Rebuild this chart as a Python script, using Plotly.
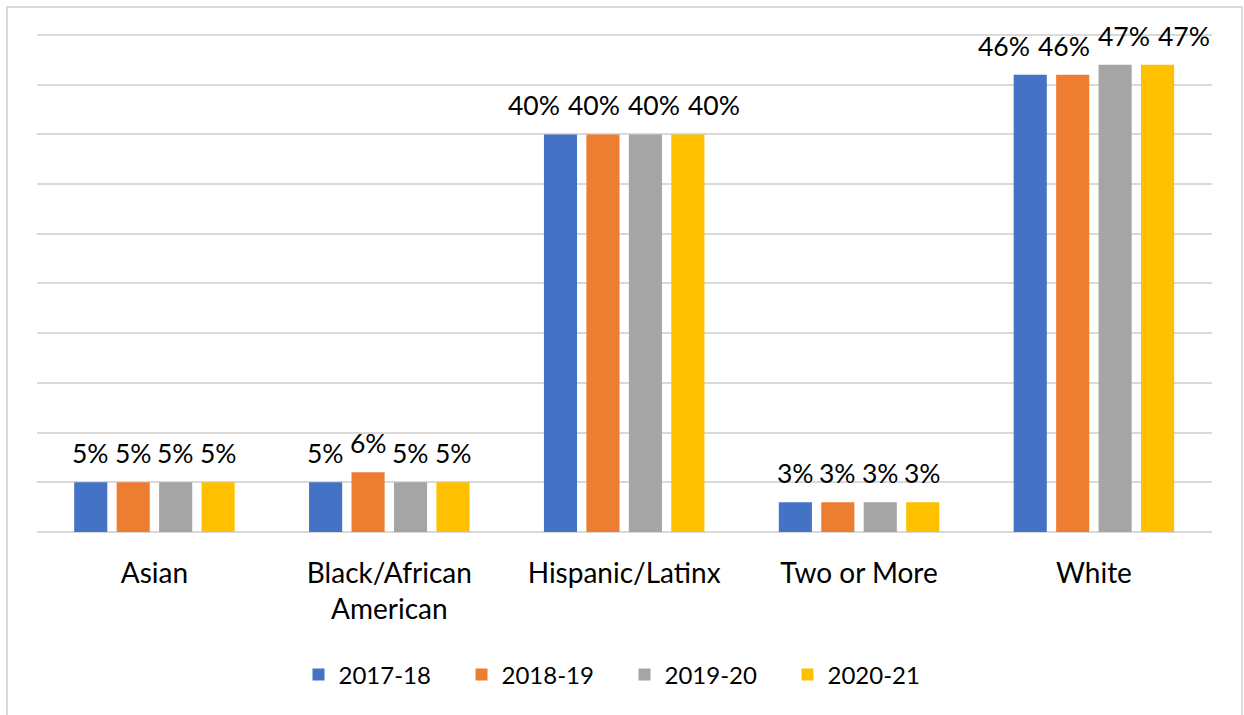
import plotly.graph_objects as go

categories = ["Asian", "Black/African<br>American", "Hispanic/Latinx", "Two or More", "White"]
years = ["2017-18", "2018-19", "2019-20", "2020-21"]
values_2017_18 = [5, 5, 40, 3, 46]
values_2018_19 = [5, 6, 40, 3, 46]
values_2019_20 = [5, 5, 40, 3, 47]
values_2020_21 = [5, 5, 40, 3, 47]
series = [values_2017_18, values_2018_19, values_2019_20, values_2020_21]
colors = ["#4472C4", "#ED7D31", "#A5A5A5", "#FFC000"]

FONT = "Lato"
W, H = 1244, 715
ML, MR, MT, MB = 37, 32, 32, 183
Y_MAX = 50.3
BARGAP = 0.277
GROUPGAP = 0.22
LABEL_SIZE = 26.5

fig = go.Figure()
for name, vals, col in zip(years, series, colors):
    fig.add_trace(go.Bar(x=categories, y=vals, name=name, marker=dict(color=col, line=dict(width=0))))

plot_w = W - ML - MR
plot_h = H - MT - MB
cat_px = plot_w / len(categories)
slot = cat_px * (1 - BARGAP) / len(years)
annotations = []
for ci, c in enumerate(categories):
    labels = [f"{s[ci]}%" for s in series]
    # spread labels apart (like Excel) when they are wider than a bar slot
    est_w = max(len(t) for t in labels) * 0.68 * LABEL_SIZE
    spacing = max(slot, est_w + 6)
    for i, s in enumerate(series):
        annotations.append(dict(
            x=c, y=s[ci], xref="x", yref="y", text=labels[i], showarrow=False,
            yanchor="bottom", xanchor="center", yshift=11,
            xshift=(i - (len(years) - 1) / 2) * spacing,
            font=dict(family=FONT, size=LABEL_SIZE, color="#000000")))

fig.update_layout(
    width=W, height=H,
    margin=dict(l=ML, r=MR, t=MT, b=MB),
    paper_bgcolor="white", plot_bgcolor="white",
    barmode="group", bargap=BARGAP, bargroupgap=GROUPGAP,
    font=dict(family=FONT, size=26, color="#000000"),
    showlegend=True,
    legend=dict(orientation="h", x=0.5, xanchor="center", y=-143 / plot_h, yanchor="middle",
                entrywidth=118, entrywidthmode="pixels",
                font=dict(family=FONT, size=24, color="#000000")),
    annotations=annotations,
    shapes=[dict(type="rect", xref="paper", yref="paper",
                 x0=(7 - ML) / plot_w, x1=(1242 - ML) / plot_w,
                 y0=-0.4, y1=1 + (MT - 7) / plot_h,
                 line=dict(color="#D9D9D9", width=2), layer="below")],
)
fig.update_yaxes(range=[0, Y_MAX], dtick=5, showticklabels=False, gridcolor="#D9D9D9", gridwidth=1.5,
                 zeroline=True, zerolinecolor="#D9D9D9", zerolinewidth=1.5, showline=False)
fig.update_xaxes(showline=False, ticks="", ticklabelstandoff=22, tickfont=dict(family=FONT, size=28, color="#000000"))

fig.write_html("out.html", post_script="document.body.style.margin='0';",
               config={"displayModeBar": False})
